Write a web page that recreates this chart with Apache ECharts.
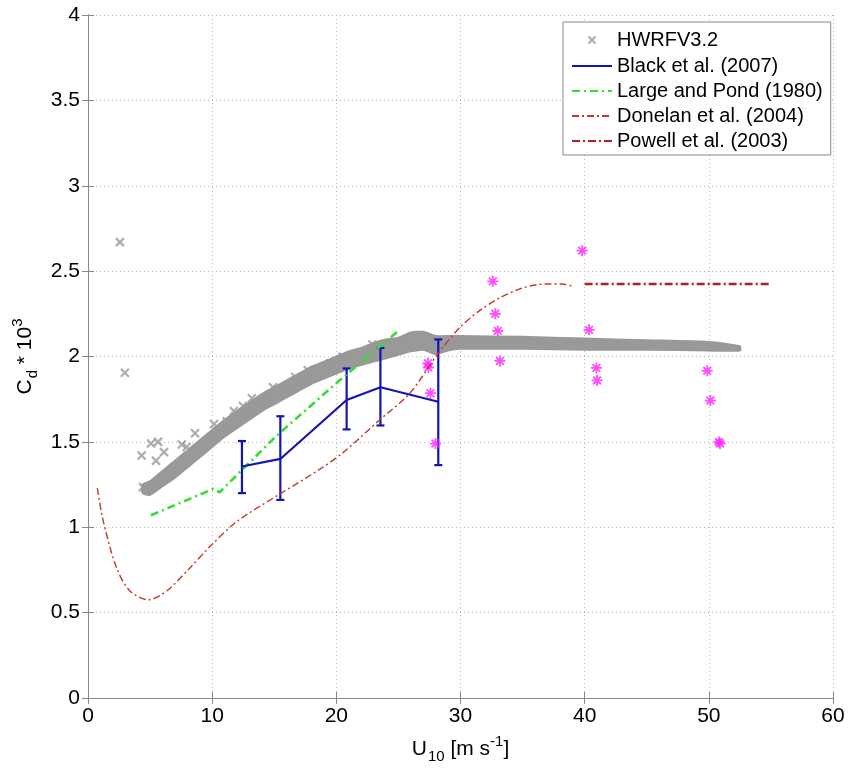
<!DOCTYPE html>
<html><head><meta charset="utf-8">
<script src="https://cdn.jsdelivr.net/npm/echarts@6/dist/echarts.min.js"></script>
<style>html,body{margin:0;padding:0;background:#fff}#c{width:848px;height:769px}</style>
</head><body><div id="c"></div>
<script>
// HWRFV3.2 dense band (x, lower edge, upper edge)
const hwrfBandX    = [4.4, 5, 6, 7, 8, 9, 10, 11, 12, 13, 14, 15, 16, 17, 18, 19, 20, 21, 22, 23, 24, 25, 26, 27, 28, 29, 30, 35, 40, 45, 50, 52.5];
const hwrfBandLow  = [1.20, 1.19, 1.24, 1.29, 1.35, 1.41, 1.47, 1.53, 1.58, 1.63, 1.68, 1.72, 1.76, 1.80, 1.84, 1.87, 1.90, 1.93, 1.95, 1.97, 1.99, 2.01, 2.03, 2.04, 2.015, 2.035, 2.045, 2.045, 2.04, 2.04, 2.035, 2.035];
const hwrfBandHigh = [1.25, 1.27, 1.33, 1.39, 1.45, 1.51, 1.57, 1.63, 1.68, 1.73, 1.78, 1.82, 1.86, 1.90, 1.94, 1.97, 2.00, 2.03, 2.05, 2.08, 2.10, 2.11, 2.14, 2.145, 2.12, 2.12, 2.12, 2.115, 2.105, 2.095, 2.085, 2.06];
// HWRFV3.2 scattered points
const hwrfX = [2.57, 2.97, 4.32, 5.07, 5.64, 6.12, 5.47, 7.55, 7.95, 8.62, 10.15, 11.17, 11.75, 12.48, 13.2, 14.9, 16.7, 17.7, 19.5, 20.5, 22.9, 4.43];
const hwrfY = [2.67, 1.905, 1.42, 1.49, 1.50, 1.44, 1.39, 1.485, 1.47, 1.55, 1.605, 1.62, 1.68, 1.71, 1.755, 1.82, 1.88, 1.92, 1.96, 2.00, 2.07, 1.235];
// Black et al. (2007) with error bars
const blackX    = [12.40, 15.49, 20.83, 23.55, 28.21];
const blackY    = [1.356, 1.40, 1.745, 1.82, 1.735];
const blackLow  = [1.20, 1.16, 1.573, 1.596, 1.364];
const blackHigh = [1.505, 1.65, 1.93, 2.05, 2.10];
// Large and Pond (1980)
const lpX = [5.07, 10.1, 10.6, 15.1, 20.1, 25.0];
const lpY = [1.07, 1.225, 1.205, 1.53, 1.85, 2.15];
// Donelan et al. (2004)
const donX = [0.75, 1.24, 2.30, 3.38, 4.86, 6.34, 8.21, 9.82, 11.98, 15.46, 18.68, 20.53, 23.51, 25.92, 28.18, 29.95, 31.56, 33.17, 34.78, 36.13, 37.2, 38.2, 39.05];
const donY = [1.229, 1.033, 0.762, 0.627, 0.575, 0.627, 0.762, 0.887, 1.033, 1.195, 1.34, 1.437, 1.63, 1.785, 2.016, 2.17, 2.27, 2.344, 2.396, 2.42, 2.425, 2.425, 2.41];
// Powell et al. (2003)
const powX = [40.0, 45, 50, 55.05];
const powY = [2.425, 2.425, 2.425, 2.425];
// observations (magenta asterisks)
const obsX = [27.37, 27.42, 27.58, 27.98, 32.6, 32.8, 33.0, 33.17, 39.8, 40.35, 40.95, 41.0, 49.87, 50.12, 50.82, 50.9];
const obsY = [1.96, 1.935, 1.785, 1.49, 2.44, 2.25, 2.15, 1.974, 2.62, 2.156, 1.933, 1.86, 1.916, 1.742, 1.50, 1.49];

const zip = (a, b) => a.map((v, i) => [v, b[i]]);
const FONT = 'Liberation Sans';
const xMark = 'path://M0,0L10,10M10,0L0,10';
const xMarkLegend = 'path://M-9,-9M0,0L10,10M10,0L0,10M19,19';
const star = 'path://M5,0L5,10M0,5L10,5M1.5,1.5L8.5,8.5M8.5,1.5L1.5,8.5';

const chart = echarts.init(document.getElementById('c'));
const axisCommon = {
  min: 0, axisLine: {show: true, lineStyle: {color: '#888'}},
  axisTick: {inside: true, length: 6, lineStyle: {color: '#888'}},
};
const richName = {
  a: {fontSize: 21, fontFamily: FONT, color: '#000', lineHeight: 30, verticalAlign: 'middle'},
  s: {fontSize: 15, fontFamily: FONT, color: '#000', lineHeight: 30, verticalAlign: 'bottom', padding: [0, 0, 0, 1]},
  p: {fontSize: 15, fontFamily: FONT, color: '#000', lineHeight: 30, verticalAlign: 'top'}
};
const noSym = {opacity: 0};
chart.setOption({
  animation: false,
  textStyle: {fontFamily: FONT},
  grid: {left: 88, right: 15, top: 15, bottom: 66},
  legend: {
    orient: 'vertical', left: 563, top: 22, width: 265,
    backgroundColor: '#fff', borderColor: '#888', borderWidth: 1,
    padding: [7, 8, 4, 8], itemWidth: 40, itemHeight: 20, itemGap: 5,
    textStyle: {fontSize: 20, fontFamily: FONT, color: '#000', lineHeight: 20},
    data: [
      {name: 'HWRFV3.2', icon: xMarkLegend},
      {name: 'Black et al. (2007)', itemStyle: noSym},
      {name: 'Large and Pond (1980)', itemStyle: noSym},
      {name: 'Donelan et al. (2004)', itemStyle: noSym},
      {name: 'Powell et al. (2003)', itemStyle: noSym}
    ]
  },
  xAxis: [
    Object.assign({}, axisCommon, {
      type: 'value', max: 60, interval: 10,
      axisLabel: {fontSize: 21, color: '#000', margin: 8, fontFamily: FONT},
      splitLine: {show: true, lineStyle: {type: [1, 3], color: '#bbb'}},
      name: '{a|U}{s|10}{a| [m s}{p|-1}{a|]}', nameLocation: 'middle', nameGap: 36,
      nameTextStyle: {rich: richName}
    }),
    Object.assign({}, axisCommon, {
      type: 'value', max: 60, interval: 10, position: 'top',
      axisLabel: {show: false}, splitLine: {show: false}
    })
  ],
  yAxis: [
    Object.assign({}, axisCommon, {
      type: 'value', max: 4, interval: 0.5,
      axisLabel: {fontSize: 21, color: '#000', margin: 8, fontFamily: FONT},
      splitLine: {show: true, lineStyle: {type: [1, 3], color: '#bbb'}},
      name: '{a|C}{s|d}{a| * 10}{p|3}', nameLocation: 'middle', nameGap: 38, nameRotate: 90,
      nameTextStyle: {rich: richName}
    }),
    Object.assign({}, axisCommon, {
      type: 'value', max: 4, interval: 0.5, position: 'right',
      axisLabel: {show: false}, splitLine: {show: false}
    })
  ],
  series: [
    {
      type: 'custom', name: 'band', silent: true, clip: true,
      data: [[hwrfBandX[0], hwrfBandLow[0]]],
      renderItem: (params, api) => {
        const pts = [];
        for (let i = 0; i < hwrfBandX.length; i++) pts.push(api.coord([hwrfBandX[i], hwrfBandHigh[i]]));
        for (let i = hwrfBandX.length - 1; i >= 0; i--) pts.push(api.coord([hwrfBandX[i], hwrfBandLow[i]]));
        return {type: 'polygon', shape: {points: pts, smooth: 0.2}, style: {fill: '#999', stroke: '#999', lineWidth: 2}};
      }
    },
    {
      type: 'scatter', name: 'HWRFV3.2', symbol: xMark, symbolSize: 8,
      itemStyle: {color: 'rgba(0,0,0,0)', borderColor: '#999', borderWidth: 2.2},
      data: zip(hwrfX, hwrfY)
    },
    {
      type: 'line', name: 'Donelan et al. (2004)', symbol: 'none', smooth: 0.3,
      lineStyle: {color: '#c0392b', width: 1.4, type: [7, 3, 2, 3]},
      itemStyle: {color: '#c0392b'},
      data: zip(donX, donY)
    },
    {
      type: 'line', name: 'Powell et al. (2003)', symbol: 'none',
      lineStyle: {color: '#b41e1e', width: 2.4, type: [8, 3, 2, 3]},
      itemStyle: {color: '#b41e1e'},
      data: zip(powX, powY)
    },
    {
      type: 'line', name: 'Large and Pond (1980)', symbol: 'none',
      lineStyle: {color: '#33dd33', width: 2.6, type: [8, 4, 2, 4]},
      itemStyle: {color: '#33dd33'},
      data: zip(lpX, lpY)
    },
    {
      type: 'custom', name: 'errbars', silent: true,
      data: blackX.map((x, i) => [x, blackLow[i], blackHigh[i]]),
      renderItem: (params, api) => {
        const lo = api.coord([api.value(0), api.value(1)]);
        const hi = api.coord([api.value(0), api.value(2)]);
        const w = 4;
        const st = {stroke: '#1414b4', lineWidth: 2.2};
        return {type: 'group', children: [
          {type: 'line', shape: {x1: lo[0], y1: lo[1], x2: hi[0], y2: hi[1]}, style: st},
          {type: 'line', shape: {x1: lo[0] - w, y1: lo[1], x2: lo[0] + w, y2: lo[1]}, style: st},
          {type: 'line', shape: {x1: hi[0] - w, y1: hi[1], x2: hi[0] + w, y2: hi[1]}, style: st}
        ]};
      }
    },
    {
      type: 'line', name: 'Black et al. (2007)', symbol: 'none',
      lineStyle: {color: '#1414b4', width: 2.2},
      itemStyle: {color: '#1414b4'},
      data: zip(blackX, blackY)
    },
    {
      type: 'scatter', name: 'obs', symbol: star, symbolSize: 11,
      itemStyle: {color: 'rgba(0,0,0,0)', borderColor: '#ff22ff', borderWidth: 1.8},
      data: zip(obsX, obsY)
    }
  ]
});
</script></body></html>
